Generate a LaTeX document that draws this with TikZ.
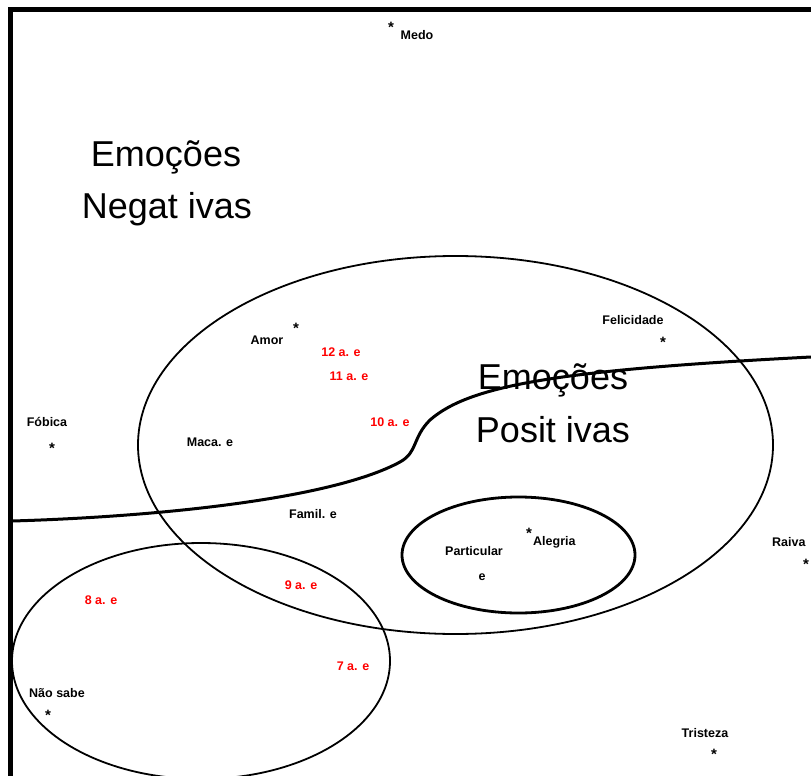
\documentclass[tikz,border=0pt]{standalone}
\usepackage{fontspec}
\setmainfont{Liberation Sans}
\begin{document}
\begin{tikzpicture}[x=1pt,y=-1pt,
  small/.style={font=\fontsize{12.5}{13}\selectfont\bfseries, inner sep=0pt, anchor=base},
  redlab/.style={small, text=red},
  big/.style={font=\fontsize{36}{40}\selectfont, inner sep=0pt, anchor=base},
  star/.style={font=\fontsize{15}{15}\selectfont\bfseries, inner sep=0pt},
  frameline/.style={line width=5pt},
  oval/.style={line width=1.8pt},
  thickoval/.style={line width=2.8pt},
  split/.style={line width=3pt}]
\useasboundingbox (0,0) rectangle (811,776);
\clip (0,0) rectangle (811,776);
% frame
\draw[frameline] (10.5,776) -- (10.5,10) -- (811,10);
% ellipses
\draw[oval] (455.5,445) ellipse [x radius=317.5, y radius=189];
\draw[oval] (201,661) ellipse [x radius=189, y radius=118];
\draw[thickoval] (518.5,555) ellipse [x radius=116.5, y radius=58];
% dividing curve
\draw[split] (12,521) .. controls (150,517) and (330,500) .. (400,462)
  .. controls (418,452) and (412,438) .. (430,420)
  .. controls (470,385) and (560,370) .. (811,357);
% big labels
\node[big] (en1) at (166,166) {Emoções};
\node[big] (en2) at (167,218) {Negat ivas};
\node[big] (ep1) at (553,389) {Emoções};
\node[big] (ep2) at (553,442) {Posit ivas};
% small labels
\node[star] (s1) at (391,27) {*};
\node[small] (medo) at (417,40) {Medo};
\node[small] (amor) at (267,344) {Amor};
\node[star] (s2) at (296,328) {*};
\node[redlab] (a12) at (341,356) {12 a. e};
\node[redlab] (a11) at (349,380) {11 a. e};
\node[redlab] (a10) at (390,426) {10 a. e};
\node[small] (feli) at (633,324) {Felicidade};
\node[star] (s3) at (663,342) {*};
\node[small] (fob) at (47,426) {Fóbica};
\node[star] (s4) at (52,448) {*};
\node[small] (marca) at (210,446) {Maca. e};
\node[small] (fam) at (313,518) {Famil. e};
\node[small] (part) at (474,555) {Particular};
\node[small] (pe) at (482,580) {e};
\node[star] (s5) at (529,533) {*};
\node[small, anchor=base west] (aleg) at (533,545) {Alegria};
\node[redlab] (a9) at (301,589) {9 a. e};
\node[redlab] (a8) at (101,604) {8 a. e};
\node[redlab] (a7) at (353,670) {7 a. e};
\node[small] (nao) at (57,697) {Não sabe};
\node[star] (s6) at (48,715) {*};
\node[small] (tris) at (705,737) {Tristeza};
\node[star] (s7) at (714,754) {*};
\node[small, anchor=base west] (raiva) at (772,546) {Raiva};
\node[star] (s8) at (806,564) {*};
\end{tikzpicture}
\end{document}
